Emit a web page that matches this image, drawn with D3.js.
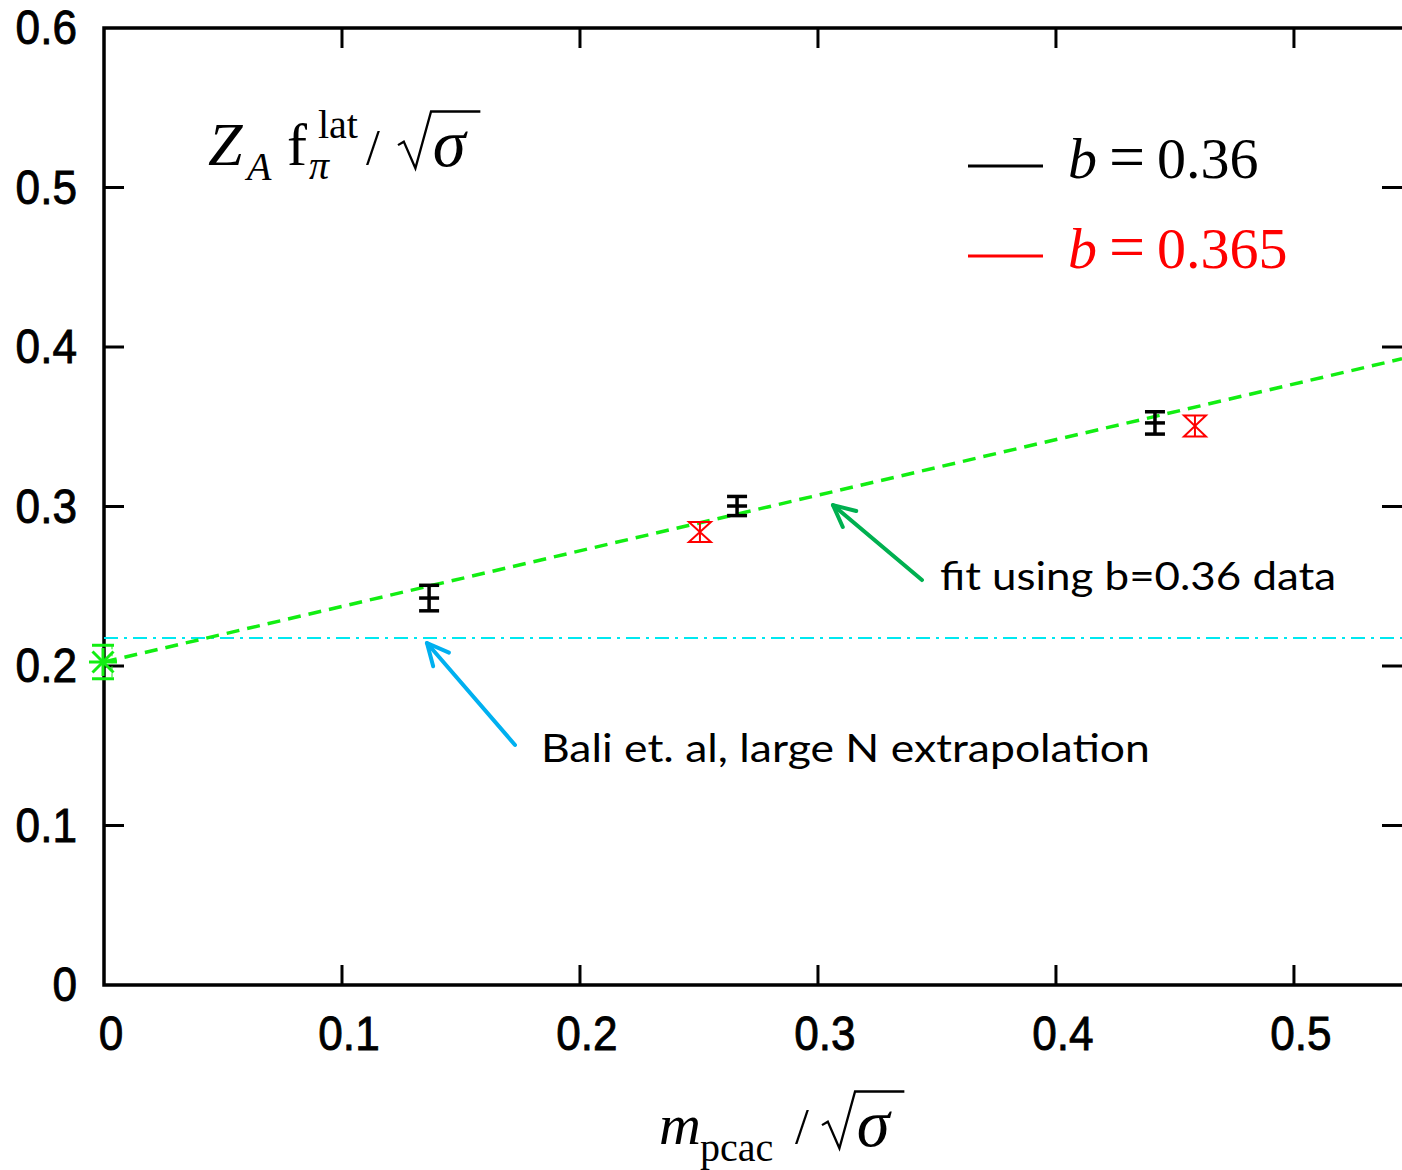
<!DOCTYPE html>
<html>
<head>
<meta charset="utf-8">
<script src="https://cdn.jsdelivr.net/npm/d3@7"></script>
<style>
  body { margin: 0; background: #fff; }
  svg { display: block; }
</style>
</head>
<body>
<div id="chart"></div>
<script>
// b = 0.36 points
var blackX = [0.1366, 0.266, 0.4416];
var blackY = [0.2426, 0.3003, 0.3524];
var blackErr = [0.008, 0.006, 0.007];
// b = 0.365 points
var redX = [0.2504, 0.4584];
var redY = [0.284, 0.3505];
var redErr = [0.0063, 0.0066];
// chiral extrapolation
var chiralX = [0];
var chiralY = [0.2025];
var chiralErr = [0.0105];
// linear fit and Bali et al value
var fitLine = [0.2025, 0.3486]; // intercept, slope
var baliY = [0.2176];
var xTicks = [0, 0.1, 0.2, 0.3, 0.4, 0.5];
var yTicks = [0, 0.1, 0.2, 0.3, 0.4, 0.5, 0.6];
var xTickLabels = ["0", "0.1", "0.2", "0.3", "0.4", "0.5"];
var yTickLabels = ["0", "0.1", "0.2", "0.3", "0.4", "0.5", "0.6"];

var W = 1402, H = 1170;
var margin = { top: 28, right: 0, bottom: 185, left: 104 };
var xMax = 0.5454;

var x = d3.scaleLinear().domain([0, xMax]).range([margin.left, W - margin.right]);
var y = d3.scaleLinear().domain([0, 0.6]).range([H - margin.bottom, margin.top]);

var svg = d3.select("#chart").append("svg")
    .attr("width", W)
    .attr("height", H);

var serif = "'Liberation Serif', 'DejaVu Serif', serif";
var sans = "'Liberation Sans', Arial, sans-serif";
var calibri = "Lato, 'Open Sans', sans-serif";

// frame: left, bottom, top (right side is cut off)
var x0 = x(0), x1 = x(xMax), y0 = y(0), y1 = y(0.6);
svg.append("path")
    .attr("d", "M" + x1 + "," + y1 + "H" + x0 + "V" + y0 + "H" + x1)
    .attr("fill", "none")
    .attr("stroke", "#000")
    .attr("stroke-width", 3.5);

var tickLen = 20;
var ticks = svg.append("g").attr("stroke", "#000").attr("stroke-width", 3);
xTicks.forEach(function (t) {
    if (t === 0) return;
    ticks.append("line").attr("x1", x(t)).attr("x2", x(t)).attr("y1", y0).attr("y2", y0 - tickLen);
    ticks.append("line").attr("x1", x(t)).attr("x2", x(t)).attr("y1", y1).attr("y2", y1 + tickLen);
});
yTicks.forEach(function (t) {
    if (t === 0 || t === 0.6) return;
    ticks.append("line").attr("x1", x0).attr("x2", x0 + tickLen).attr("y1", y(t)).attr("y2", y(t));
    ticks.append("line").attr("x1", x1).attr("x2", x1 - tickLen).attr("y1", y(t)).attr("y2", y(t));
});

// tick labels (narrow, tall sans)
svg.append("g").selectAll("text")
    .data(xTicks)
    .join("text")
    .attr("transform", function (d) { return "translate(" + (x(d) + 7) + "," + (y0 + 65) + ") scale(0.92,1)"; })
    .attr("text-anchor", "middle")
    .attr("font-family", sans)
    .attr("font-size", 48)
    .attr("stroke", "#000")
    .attr("stroke-width", 0.9)
    .text(function (d, i) { return xTickLabels[i]; });

svg.append("g").selectAll("text")
    .data(yTicks)
    .join("text")
    .attr("transform", function (d) { return "translate(77," + (y(d) + 16) + ") scale(0.92,1)"; })
    .attr("text-anchor", "end")
    .attr("font-family", sans)
    .attr("font-size", 48)
    .attr("stroke", "#000")
    .attr("stroke-width", 0.9)
    .text(function (d, i) { return yTickLabels[i]; });

// Bali et al horizontal line
svg.append("line")
    .attr("x1", x0).attr("x2", x1)
    .attr("y1", y(baliY[0])).attr("y2", y(baliY[0]))
    .attr("stroke", "#00e8f0")
    .attr("stroke-width", 2)
    .attr("stroke-dasharray", "14,6,3,6");

// fit line
svg.append("line")
    .attr("x1", x(0)).attr("x2", x(xMax))
    .attr("y1", y(fitLine[0])).attr("y2", y(fitLine[0] + fitLine[1] * xMax))
    .attr("stroke", "#12ee12")
    .attr("stroke-width", 3.5)
    .attr("stroke-dasharray", "13,8");

// error bars with a horizontal mark (b=0.36)
var cap = 10;
var gBlack = svg.append("g").attr("stroke", "#000").attr("stroke-width", 3.5);
blackX.forEach(function (v, i) {
    var cx = x(v), cy = y(blackY[i]);
    var top = y(blackY[i] + blackErr[i]), bot = y(blackY[i] - blackErr[i]);
    gBlack.append("line").attr("x1", cx).attr("x2", cx).attr("y1", top).attr("y2", bot);
    gBlack.append("line").attr("x1", cx - cap).attr("x2", cx + cap).attr("y1", top).attr("y2", top);
    gBlack.append("line").attr("x1", cx - cap).attr("x2", cx + cap).attr("y1", bot).attr("y2", bot);
    gBlack.append("line").attr("x1", cx - cap).attr("x2", cx + cap).attr("y1", cy).attr("y2", cy);
});

// hourglass error bars (b=0.365)
var gRed = svg.append("g").attr("stroke", "#f00").attr("stroke-width", 2).attr("fill", "none");
redX.forEach(function (v, i) {
    var cx = x(v);
    var top = y(redY[i] + redErr[i]), bot = y(redY[i] - redErr[i]);
    var c = 11;
    gRed.append("line").attr("x1", cx).attr("x2", cx).attr("y1", top).attr("y2", bot);
    gRed.append("path")
        .attr("d", "M" + (cx - c) + "," + top + "H" + (cx + c) + "L" + (cx - c) + "," + bot +
            "H" + (cx + c) + "Z");
});

// chiral point
var gGreen = svg.append("g").attr("stroke", "#12ee12").attr("stroke-width", 3);
chiralX.forEach(function (v, i) {
    var cx = x(v) - 1, cy = y(chiralY[i]);
    var top = y(chiralY[i] + chiralErr[i]), bot = y(chiralY[i] - chiralErr[i]);
    var c = 11, s = 14;
    gGreen.append("line").attr("x1", cx - c).attr("x2", cx + c).attr("y1", top).attr("y2", top);
    gGreen.append("line").attr("x1", cx - c).attr("x2", cx + c).attr("y1", bot).attr("y2", bot);
    gGreen.append("line").attr("x1", cx + 9).attr("x2", cx + 9).attr("y1", top).attr("y2", bot)
        .attr("stroke-width", 1).attr("stroke-dasharray", "4,3");
    gGreen.append("line").attr("x1", cx - s).attr("x2", cx + s).attr("y1", cy).attr("y2", cy);
    gGreen.append("line").attr("x1", cx).attr("x2", cx).attr("y1", cy - s).attr("y2", cy + s);
    gGreen.append("line").attr("x1", cx - s * 0.75).attr("x2", cx + s * 0.75).attr("y1", cy - s * 0.75).attr("y2", cy + s * 0.75);
    gGreen.append("line").attr("x1", cx - s * 0.75).attr("x2", cx + s * 0.75).attr("y1", cy + s * 0.75).attr("y2", cy - s * 0.75);
});

// annotations with arrows
var annotations = [
    { text: "fit using b=0.36 data", color: "#00b050", tip: [0.3063, 0.3009], tail: [0.3437, 0.2539], pos: [0.3513, 0.2476], len: 396 },
    { text: "Bali et. al, large N extrapolation", color: "#00b0f0", tip: [0.1357, 0.2144], tail: [0.1727, 0.1505], pos: [0.1836, 0.1398], len: 609 }
];
annotations.forEach(function (a) {
    var tx = x(a.tip[0]), ty = y(a.tip[1]), sx = x(a.tail[0]), sy = y(a.tail[1]);
    var ang = Math.atan2(sy - ty, sx - tx), hl = 24, spread = 0.45;
    var g = svg.append("g").attr("stroke", a.color).attr("stroke-width", 4)
        .attr("fill", "none").attr("stroke-linecap", "round").attr("stroke-linejoin", "round");
    g.append("line").attr("x1", sx).attr("y1", sy).attr("x2", tx).attr("y2", ty);
    g.append("path").attr("d",
        "M" + (tx + hl * Math.cos(ang - spread)) + "," + (ty + hl * Math.sin(ang - spread)) +
        "L" + tx + "," + ty +
        "L" + (tx + hl * Math.cos(ang + spread)) + "," + (ty + hl * Math.sin(ang + spread)));
    svg.append("text")
        .attr("x", x(a.pos[0])).attr("y", y(a.pos[1]))
        .attr("font-family", calibri)
        .attr("font-size", 38)
        .attr("textLength", a.len)
        .attr("lengthAdjust", "spacingAndGlyphs")
        .attr("fill", "#000")
        .text(a.text);
});

// root sigma helper: draws the radical sign and an overline over sigma
function rootSigma(g, xs, base, size) {
    g.append("path")
        .attr("d", "M" + xs + "," + (base - size * 0.36) +
            "l" + size * 0.1 + "," + (-size * 0.06) +
            "l" + size * 0.2 + "," + size * 0.46 +
            "l" + size * 0.27 + "," + (-size * 0.98) +
            "h" + size * 0.85)
        .attr("fill", "none")
        .attr("stroke", "#000")
        .attr("stroke-width", size * 0.04)
        .attr("stroke-linejoin", "miter");
    g.append("text")
        .attr("x", xs + size * 0.6).attr("y", base)
        .attr("font-family", serif).attr("font-style", "italic")
        .attr("font-size", size * 1.15)
        .text("σ");
}

// plot title
var title = svg.append("g");
title.append("text").attr("x", 208).attr("y", 165)
    .attr("font-family", serif).attr("font-size", 62).attr("font-style", "italic").text("Z");
title.append("text").attr("x", 247).attr("y", 180)
    .attr("font-family", serif).attr("font-size", 40).attr("font-style", "italic").text("A");
title.append("text").attr("x", 287).attr("y", 165)
    .attr("font-family", serif).attr("font-size", 60).text("f");
title.append("text").attr("x", 318).attr("y", 138)
    .attr("font-family", serif).attr("font-size", 40).text("lat");
title.append("text").attr("x", 309).attr("y", 179)
    .attr("font-family", serif).attr("font-size", 40).attr("font-style", "italic").text("π");
title.append("text").attr("x", 366).attr("y", 164)
    .attr("font-family", serif).attr("font-size", 50).text("/");
rootSigma(title, 398, 166, 58);

// x-axis label
var xlab = svg.append("g");
xlab.append("text").attr("x", 659).attr("y", 1144)
    .attr("font-family", serif).attr("font-size", 58).attr("font-style", "italic").text("m");
xlab.append("text").attr("x", 700).attr("y", 1161)
    .attr("font-family", serif).attr("font-size", 40).text("pcac");
xlab.append("text").attr("x", 795).attr("y", 1143)
    .attr("font-family", serif).attr("font-size", 50).text("/");
rootSigma(xlab, 822, 1146, 58);

// legend
var legendItems = [
    { label: "0.36", color: "#000", y: 0.5135 },
    { label: "0.365", color: "#f00", y: 0.457 }
];
legendItems.forEach(function (d) {
    var ly = y(d.y);
    svg.append("line")
        .attr("x1", 968).attr("x2", 1043).attr("y1", ly).attr("y2", ly)
        .attr("stroke", d.color).attr("stroke-width", 3);
    var t = svg.append("text")
        .attr("x", 1068).attr("y", ly + 12)
        .attr("font-family", serif).attr("font-size", 58)
        .attr("fill", d.color);
    t.append("tspan").attr("font-style", "italic").text("b");
    t.append("tspan").attr("dx", 12).attr("font-size", 64).text("=");
    t.append("tspan").attr("dx", 12).text(d.label);
});
</script>
</body>
</html>
